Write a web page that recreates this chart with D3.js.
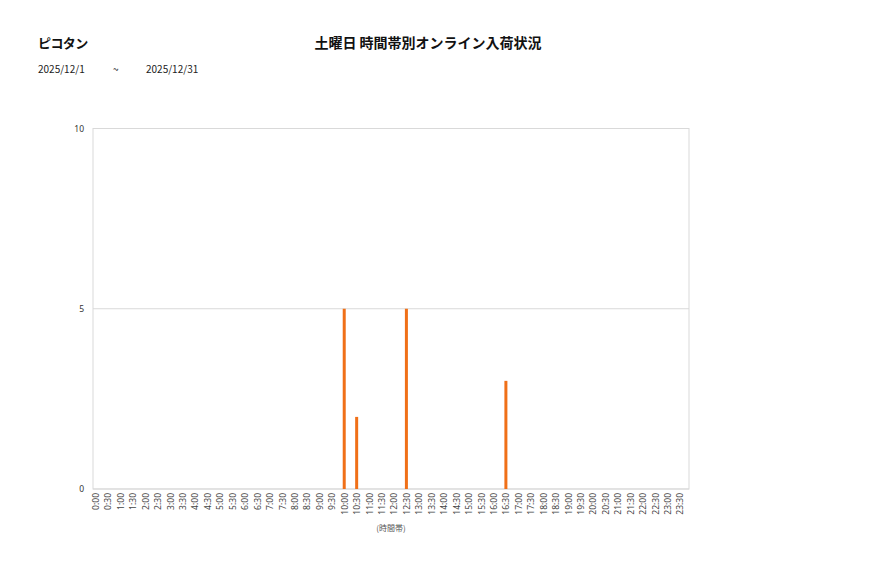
<!DOCTYPE html>
<html>
<head>
<meta charset="utf-8">
<script src="https://cdn.jsdelivr.net/npm/d3@7"></script>
<style>
  body { margin: 0; background: #fff; font-family: "Noto Sans CJK JP", "Noto Sans", sans-serif; }
</style>
</head>
<body>
<div id="chart"></div>
<script>
// data
var storeName = "ピコタン";
var chartTitle = "土曜日 時間帯別オンライン入荷状況";
var dateFrom = "2025/12/1";
var dateTo = "2025/12/31";
var timeSlots = [];
for (var h = 0; h < 24; h++) {
  timeSlots.push(h + ":00");
  timeSlots.push(h + ":30");
}
var barSlots = ["10:00", "10:30", "12:30", "16:30"];
var barValues = [5, 2, 5, 3];
var yTicks = [0, 5, 10];

var svgWidth = 877;
var svgHeight = 578;

// plot area
var plot = { left: 93, top: 128.5, right: 689, bottom: 489 };

var svg = d3.select("#chart")
  .append("svg")
  .attr("width", svgWidth)
  .attr("height", svgHeight);

// header texts
svg.append("text")
  .attr("x", 38).attr("y", 48)
  .attr("font-size", 13).attr("font-weight", "bold")
  .attr("letter-spacing", -0.6)
  .attr("fill", "#111")
  .text(storeName);

svg.append("text")
  .attr("x", 428).attr("y", 48)
  .attr("text-anchor", "middle")
  .attr("font-size", 14).attr("font-weight", "bold")
  .attr("fill", "#111")
  .text(chartTitle);

svg.append("text")
  .attr("x", 38).attr("y", 73)
  .attr("font-size", 10).attr("fill", "#222")
  .text(dateFrom);
svg.append("text")
  .attr("x", 113).attr("y", 73)
  .attr("font-size", 10).attr("fill", "#222")
  .text("~");
svg.append("text")
  .attr("x", 146).attr("y", 73)
  .attr("font-size", 10).attr("fill", "#222")
  .text(dateTo);

// scales
var xScale = d3.scalePoint()
  .domain(timeSlots)
  .range([plot.left + 2.5, plot.right - 9]);

var yScale = d3.scaleLinear()
  .domain([0, 10])
  .range([plot.bottom, plot.top]);

// plot border
svg.append("rect")
  .attr("x", plot.left).attr("y", plot.top)
  .attr("width", plot.right - plot.left)
  .attr("height", plot.bottom - plot.top)
  .attr("fill", "none")
  .attr("stroke", "#d9d9d9");

// gridlines
svg.append("g")
  .selectAll("line")
  .data(yTicks)
  .enter()
  .append("line")
  .attr("x1", plot.left).attr("x2", plot.right)
  .attr("y1", d => yScale(d)).attr("y2", d => yScale(d))
  .attr("stroke", "#d9d9d9");

// y axis
var leftAxis = d3.axisLeft(yScale).tickValues(yTicks).tickSize(0).tickPadding(9);
var yAxisG = svg.append("g")
  .attr("transform", `translate(${plot.left}, 0)`)
  .call(leftAxis);
yAxisG.select(".domain").remove();
yAxisG.selectAll("text")
  .attr("font-size", 8.5)
  .attr("font-family", "Noto Sans, sans-serif")
  .attr("fill", "#333");

// x axis
var bottomAxis = d3.axisBottom(xScale).tickSize(0).tickPadding(0);
var xAxisG = svg.append("g")
  .attr("transform", `translate(0, ${plot.bottom})`)
  .call(bottomAxis);
xAxisG.select(".domain").remove();
xAxisG.selectAll("text")
  .attr("transform", "rotate(-90)")
  .attr("text-anchor", "end")
  .attr("x", -4)
  .attr("y", 0)
  .attr("dy", "0.35em")
  .attr("font-size", 8.5)
  .attr("font-family", "Noto Sans, sans-serif")
  .attr("fill", "#444");

// bars
svg.append("g")
  .selectAll("rect")
  .data(barSlots)
  .enter()
  .append("rect")
  .attr("x", d => xScale(d) - 1.5)
  .attr("y", (d, i) => yScale(barValues[i]))
  .attr("width", 3)
  .attr("height", (d, i) => plot.bottom - yScale(barValues[i]))
  .attr("fill", "#f07018");

// x axis title
svg.append("text")
  .attr("x", 391).attr("y", 531)
  .attr("text-anchor", "middle")
  .attr("font-size", 8)
  .attr("fill", "#555")
  .text("(時間帯)");
</script>
</body>
</html>
